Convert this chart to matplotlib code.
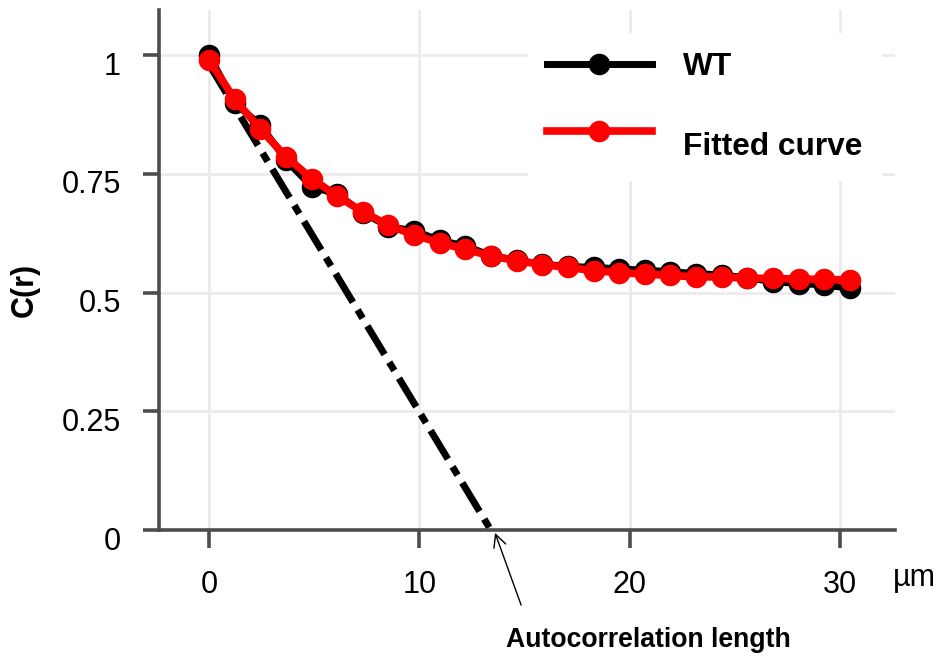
import matplotlib
matplotlib.use('Agg')
import matplotlib.pyplot as plt
import matplotlib.transforms as mtransforms

plt.rcParams['font.family'] = ['Liberation Sans', 'DejaVu Sans']

# distance r (um) and correlation values
r = [0.00, 1.22, 2.44, 3.66, 4.88, 6.10, 7.31, 8.53, 9.75, 10.97, 12.19, 13.41, 14.63,
     15.85, 17.07, 18.29, 19.50, 20.72, 21.94, 23.16, 24.38, 25.60, 26.82, 28.04, 29.26, 30.48]
wt = [1.000, 0.899, 0.853, 0.779, 0.723, 0.707, 0.668, 0.639, 0.630, 0.610, 0.598, 0.578, 0.568,
      0.560, 0.555, 0.553, 0.550, 0.547, 0.544, 0.540, 0.537, 0.531, 0.523, 0.519, 0.516, 0.509]
fitted = [0.989, 0.907, 0.844, 0.786, 0.740, 0.703, 0.670, 0.642, 0.621, 0.605, 0.591, 0.577, 0.567,
          0.559, 0.553, 0.546, 0.542, 0.539, 0.536, 0.533, 0.533, 0.530, 0.530, 0.528, 0.528, 0.526]

# tangent at the origin, hitting zero at the autocorrelation length
tangent_x = [0.0, 13.4]
tangent_y = [0.98, 0.0]

xticks = [0, 10, 20, 30]
yticks = [0, 0.25, 0.5, 0.75, 1]
yticklabels = ['0', '0.25', '0.5', '0.75', '1']

fig = plt.figure(figsize=(9.36, 6.58), dpi=100)
ax = fig.add_axes([159/936, 1 - 530/658, (895 - 159)/936, (530 - 10)/658])

ax.plot(tangent_x, tangent_y, color='black', lw=5, dashes=(4.8, 1.3, 1.4, 1.3), zorder=2)
l_wt, = ax.plot(r, wt, color='black', lw=5, marker='o', ms=14.5, zorder=3)
l_fit, = ax.plot(r, fitted, color='red', lw=5.5, marker='o', ms=14.5, zorder=4)

ax.set_xlim(-2.38, 32.62)
ax.set_ylim(0, 1.095)
ax.set_xticks(xticks)
ax.set_yticks(yticks)
ax.set_yticklabels(yticklabels)

ax.grid(True, color='#ebebeb', lw=2)
ax.set_axisbelow(True)
for s in ['top', 'right']:
    ax.spines[s].set_visible(False)
for s in ['left', 'bottom']:
    ax.spines[s].set_color('#4d4d4d')
    ax.spines[s].set_linewidth(2.6)

ax.tick_params(axis='both', colors='#4d4d4d', width=2.6, labelcolor='black', labelsize=22)
ax.tick_params(axis='x', length=13, pad=16)
ax.tick_params(axis='y', length=11.5, pad=16)

# y tick labels sit a little lower than their ticks in the original
offset = mtransforms.ScaledTranslation(0, -0.08, fig.dpi_scale_trans)
for lab in ax.get_yticklabels():
    lab.set_verticalalignment('center_baseline')
    lab.set_transform(lab.get_transform() + offset)

ax.set_ylabel('C(r)', fontsize=22, fontweight='bold')
ax.yaxis.set_label_coords((40 - 159) / 736, (530 - 290) / 520)

fig.text(893/936, 1 - 578/658, 'µm', fontsize=22, ha='left', va='center')

leg = ax.legend([l_wt, l_fit], ['WT', '\nFitted curve'],
                loc='upper left', bbox_to_anchor=(528/936, 1 - 33/658),
                bbox_transform=fig.transFigure, borderaxespad=0, borderpad=0.6,
                handlelength=3.3, handletextpad=1.0, labelspacing=0.55,
                prop={'size': 22.8, 'weight': 'bold'},
                frameon=True, fancybox=False, facecolor='white', edgecolor='none', framealpha=1)
leg.get_texts()[1].set_linespacing(1.1)
leg.set_zorder(5)

ax.annotate('', xy=(13.6, -0.006), xytext=(14.84, -0.158),
            xycoords='data', textcoords='data', annotation_clip=False,
            arrowprops=dict(arrowstyle='->,head_length=0.9,head_width=0.45', lw=1, color='black',
                            shrinkA=0, shrinkB=0))
fig.text(648/936, 1 - 640/658, 'Autocorrelation length', fontsize=19.2, fontweight='bold',
         ha='center', va='center')

fig.savefig('out.png', dpi=100, facecolor='white')
